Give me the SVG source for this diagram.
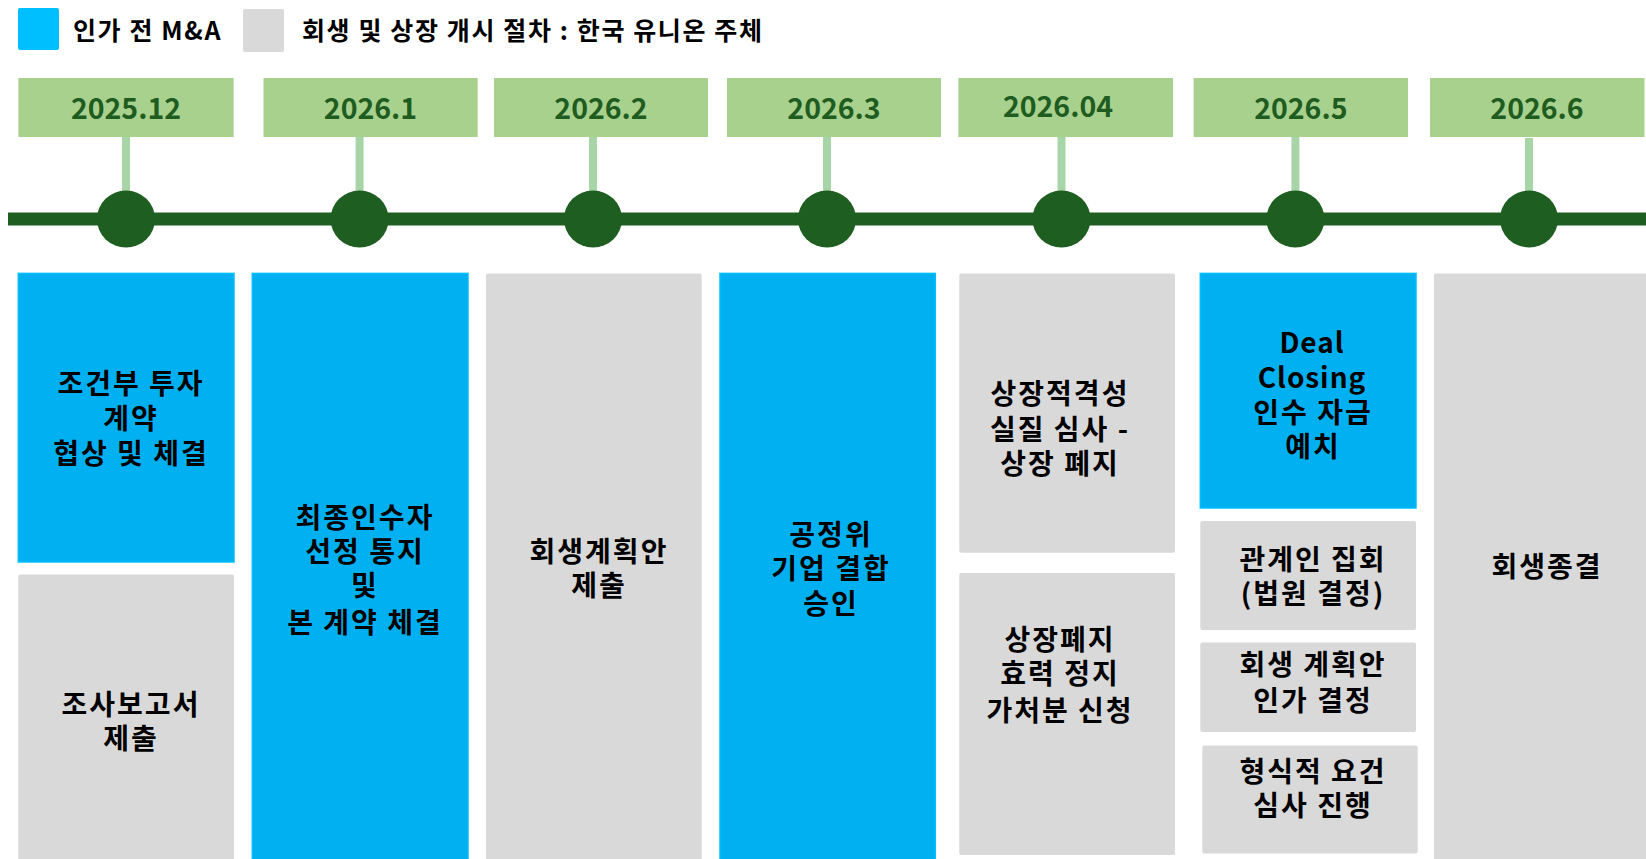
<svg xmlns="http://www.w3.org/2000/svg" width="1646" height="859" viewBox="0 0 1646 859">
<style>
text{font-family:"Noto Sans CJK KR","Noto Sans",sans-serif;font-weight:700}
.lg{font-size:25px;fill:#000;letter-spacing:1.6px}
.dt{font-size:28.5px;fill:#1E5C20;text-anchor:middle;dominant-baseline:central}
.bx{font-size:28px;fill:#000;text-anchor:middle;dominant-baseline:central;letter-spacing:2px}
.en{letter-spacing:1px}
.blue{fill:#00B0F0;stroke:#00BFFF;stroke-width:1.5}
.gray{fill:#D9D9D9}
.date{fill:#A9D18E}
.stem{stroke:#A8D5A8;stroke-width:8}
.dot{fill:#1E5E20}
</style>
<g id="legend">
<rect x="18" y="8" width="41" height="42" rx="2" fill="#00BFFF"/>
<text class="lg" x="73" y="40">인가 전 M&amp;A</text>
<rect x="243" y="9" width="41" height="43" rx="2" fill="#D9D9D9"/>
<text class="lg" x="302" y="40">회생 및 상장 개시 절차 : 한국 유니온 주체</text>
</g>
<g id="connectors">
<line class="stem" x1="126" y1="135" x2="126" y2="195"/>
<line class="stem" x1="359.6" y1="135" x2="359.6" y2="195"/>
<line class="stem" x1="593" y1="135" x2="593" y2="195"/>
<line class="stem" x1="827" y1="135" x2="827" y2="195"/>
<line class="stem" x1="1061.5" y1="135" x2="1061.5" y2="195"/>
<line class="stem" x1="1295.4" y1="135" x2="1295.4" y2="195"/>
<line class="stem" x1="1529" y1="138" x2="1529" y2="195"/>
<rect x="8" y="212.5" width="1638" height="13" fill="#1E5E20"/>
</g>
<g id="d1"><rect class="date" x="18.4" y="78" width="215.2" height="59"/><text class="dt" x="126" y="106">2025.12</text><ellipse class="dot" cx="126" cy="219" rx="29" ry="28.5"/></g>
<g id="d2"><rect class="date" x="263.5" y="78" width="214.2" height="59"/><text class="dt" x="370.5" y="106">2026.1</text><ellipse class="dot" cx="359.6" cy="219" rx="29" ry="28.5"/></g>
<g id="d3"><rect class="date" x="494" y="78" width="214" height="59"/><text class="dt" x="601" y="106">2026.2</text><ellipse class="dot" cx="593" cy="219" rx="29" ry="28.5"/></g>
<g id="d4"><rect class="date" x="727" y="78" width="214" height="59"/><text class="dt" x="834" y="106">2026.3</text><ellipse class="dot" cx="827" cy="219" rx="29" ry="28.5"/></g>
<g id="d5"><rect class="date" x="958.4" y="78" width="214.6" height="59"/><text class="dt" x="1058" y="104.5">2026.04</text><ellipse class="dot" cx="1061.5" cy="219" rx="29" ry="28.5"/></g>
<g id="d6"><rect class="date" x="1193.6" y="78" width="214.4" height="59"/><text class="dt" x="1300.8" y="106">2026.5</text><ellipse class="dot" cx="1295.4" cy="219" rx="29" ry="28.5"/></g>
<g id="d7"><rect class="date" x="1430" y="78" width="214.5" height="59"/><text class="dt" x="1537" y="106">2026.6</text><ellipse class="dot" cx="1529" cy="219" rx="29" ry="28.5"/></g>
<g id="n1a"><rect class="blue" x="18.3" y="273.4" width="215.7" height="288.6"/>
<text class="bx" x="131" y="382">조건부 투자</text><text class="bx" x="131" y="416.5">계약</text><text class="bx" x="131" y="452">협상 및 체결</text></g>
<g id="n1b"><rect class="gray" x="18.3" y="574.5" width="215.7" height="290" rx="2"/>
<text class="bx" x="131" y="702.7">조사보고서</text><text class="bx" x="131" y="737">제출</text></g>
<g id="n2"><rect class="blue" x="252.3" y="273.4" width="215.7" height="600"/>
<text class="bx" x="365" y="515.7">최종인수자</text><text class="bx" x="365" y="550">선정 통지</text><text class="bx" x="365" y="584.4">및</text><text class="bx" x="365" y="620.7">본 계약 체결</text></g>
<g id="n3"><rect class="gray" x="486" y="273.4" width="215.7" height="600" rx="2"/>
<text class="bx" x="599" y="550">회생계획안</text><text class="bx" x="599" y="584.4">제출</text></g>
<g id="n4"><rect class="blue" x="720" y="273.4" width="215.3" height="600"/>
<text class="bx" x="831" y="533">공정위</text><text class="bx" x="831" y="567">기업 결합</text><text class="bx" x="831" y="601.6">승인</text></g>
<g id="n5a"><rect class="gray" x="959.3" y="273.4" width="215.7" height="279.3" rx="2"/>
<text class="bx" x="1060" y="391.7">상장적격성</text><text class="bx" x="1060" y="428">실질 심사 -</text><text class="bx" x="1060" y="462.3">상장 폐지</text></g>
<g id="n5b"><rect class="gray" x="959.3" y="573" width="215.7" height="282" rx="2"/>
<text class="bx" x="1060" y="638">상장폐지</text><text class="bx" x="1060" y="672">효력 정지</text><text class="bx" x="1060" y="708.5">가처분 신청</text></g>
<g id="n6a"><rect class="blue" x="1200.3" y="273.4" width="215.7" height="234.6"/>
<text class="bx en" x="1312" y="341">Deal</text><text class="bx en" x="1312" y="376.4">Closing</text><text class="bx" x="1313" y="410.8">인수 자금</text><text class="bx" x="1313" y="445">예치</text></g>
<g id="n6b"><rect class="gray" x="1200.3" y="521" width="215.7" height="109" rx="2"/>
<text class="bx" x="1313" y="557.7">관계인 집회</text><text class="bx" x="1313" y="592">(법원 결정)</text></g>
<g id="n6c"><rect class="gray" x="1200.3" y="642.4" width="215.7" height="89.6" rx="2"/>
<text class="bx" x="1313" y="662.7">회생 계획안</text><text class="bx" x="1313" y="699">인가 결정</text></g>
<g id="n6d"><rect class="gray" x="1202.3" y="745.5" width="215.4" height="108" rx="2"/>
<text class="bx" x="1313" y="769.5">형식적 요건</text><text class="bx" x="1313" y="804">심사 진행</text></g>
<g id="n7"><rect class="gray" x="1434" y="273.4" width="230" height="600" rx="2"/>
<text class="bx" x="1547" y="565">회생종결</text></g>
</svg>
